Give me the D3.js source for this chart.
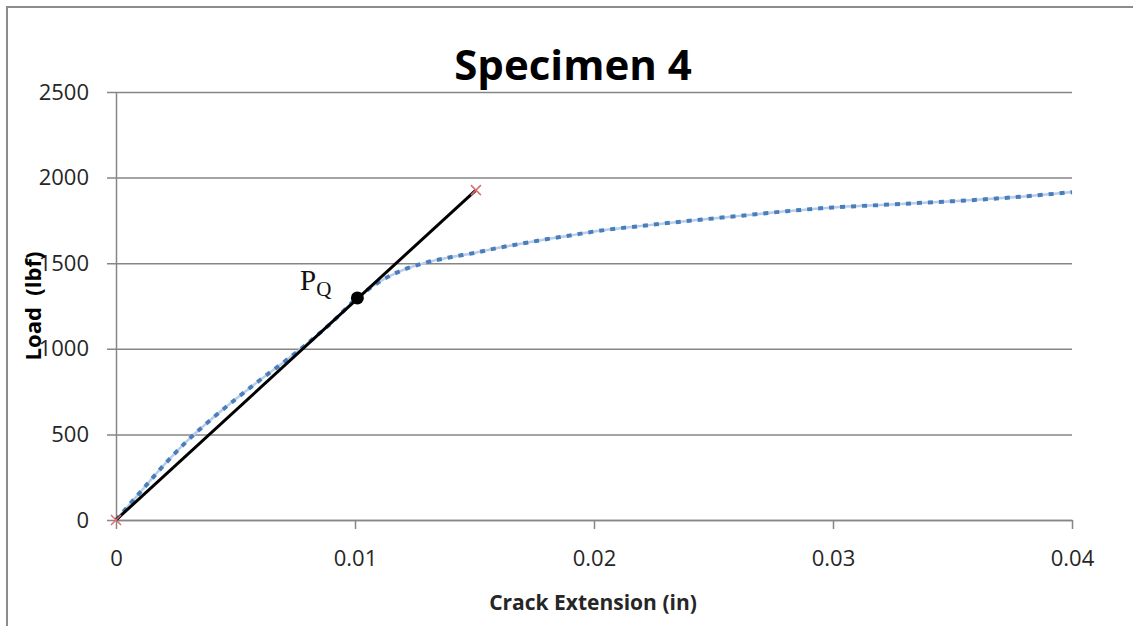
<!DOCTYPE html>
<html>
<head>
<meta charset="utf-8">
<script src="https://cdn.jsdelivr.net/npm/d3@7"></script>
<style>
  body { margin: 0; background: #fff; }
  svg { display: block; }
</style>
</head>
<body>
<script>
var width = 1133
var height = 626

// load vs crack extension
var crackExt = [0, 0.0005, 0.001, 0.002, 0.003, 0.004, 0.005, 0.006, 0.007, 0.008, 0.009, 0.010,
    0.011, 0.012, 0.013, 0.014, 0.015, 0.016, 0.017, 0.018, 0.019, 0.020, 0.022, 0.024,
    0.026, 0.028, 0.030, 0.032, 0.034, 0.036, 0.038, 0.040]
var loadLbf = [0, 80, 160, 320, 465, 590, 705, 815, 920, 1030, 1150, 1285,
    1390, 1460, 1505, 1535, 1560, 1590, 1615, 1640, 1662, 1685, 1718, 1748,
    1775, 1803, 1826, 1840, 1855, 1870, 1890, 1915]

// 5% offset line end points and the P_Q point
var offsetX = [0, 0.01506]
var offsetY = [0, 1927]
var pqX = 0.0101
var pqY = 1297

var xTicks = [0, 0.01, 0.02, 0.03, 0.04]
var yTicks = [0, 500, 1000, 1500, 2000, 2500]

var plot = { left: 116, right: 1072, top: 92, bottom: 520 }

var x = d3.scaleLinear().domain([0, 0.04]).range([plot.left, plot.right])
var y = d3.scaleLinear().domain([0, 2500]).range([plot.bottom, plot.top])

var svg = d3.select('body').append('svg')
    .attr('width', width)
    .attr('height', height)

// outer chart frame (right and bottom are cut off)
svg.append('path')
    .attr('d', `M7,${height} L7,7 L${width},7`)
    .attr('fill', 'none')
    .attr('stroke', '#8c8c8c')
    .attr('stroke-width', 2)

svg.append('text')
    .attr('x', 573).attr('y', 80)
    .attr('text-anchor', 'middle')
    .style('font-family', 'Open Sans, sans-serif')
    .style('font-weight', 'bold')
    .style('font-size', '42px')
    .attr('fill', '#000')
    .text('Specimen 4')

// y axis + gridlines
var yAxis = svg.append('g')
    .attr('transform', `translate(${plot.left},0)`)
    .call(d3.axisLeft(y).tickValues(yTicks).tickFormat(d3.format('d'))
        .tickSize(-(plot.right - plot.left)).tickSizeOuter(0).tickPadding(27))
yAxis.selectAll('.tick line')
    .attr('x1', -9)
    .attr('stroke', '#868686')
    .attr('stroke-width', 1.5)
yAxis.select('.domain').attr('stroke', '#868686').attr('stroke-width', 1.5)

// x axis
var xAxis = svg.append('g')
    .attr('transform', `translate(0,${plot.bottom})`)
    .call(d3.axisBottom(x).tickValues(xTicks)
        .tickFormat(d => d === 0 ? '0' : d3.format('.2f')(d))
        .tickSize(9).tickSizeOuter(0).tickPadding(21))
xAxis.selectAll('.tick line').attr('stroke', '#868686').attr('stroke-width', 1.5)
xAxis.select('.domain').attr('stroke', '#868686').attr('stroke-width', 1.5)

svg.selectAll('.tick text')
    .style('font-family', 'Open Sans, sans-serif')
    .style('font-size', '22px')
    .attr('fill', '#262626')

// axis titles
svg.append('text')
    .attr('x', 593).attr('y', 610)
    .attr('text-anchor', 'middle')
    .style('font-family', 'Open Sans, sans-serif')
    .style('font-weight', 'bold')
    .style('font-size', '21px')
    .attr('fill', '#262626')
    .text('Crack Extension (in)')

svg.append('text')
    .attr('transform', `translate(41,${(plot.top + plot.bottom) / 2}) rotate(-90)`)
    .attr('text-anchor', 'middle')
    .style('font-family', 'Open Sans, sans-serif')
    .style('font-weight', 'bold')
    .style('font-size', '22px')
    .style('white-space', 'pre')
    .attr('fill', '#000')
    .text('Load  (lbf)')

// measured curve
var line = d3.line()
    .x((d, i) => x(crackExt[i]))
    .y(d => y(d))
    .curve(d3.curveMonotoneX)

svg.append('path')
    .attr('d', line(loadLbf))
    .attr('fill', 'none')
    .attr('stroke', '#b7cdea')
    .attr('stroke-width', 2.5)

svg.append('path')
    .attr('d', line(loadLbf))
    .attr('fill', 'none')
    .attr('stroke', '#4a7ebb')
    .attr('stroke-width', 4)
    .attr('stroke-dasharray', '5 6')

// offset line
svg.append('line')
    .attr('x1', x(offsetX[0])).attr('y1', y(offsetY[0]))
    .attr('x2', x(offsetX[1])).attr('y2', y(offsetY[1]))
    .attr('stroke', '#000')
    .attr('stroke-width', 3)

// red x markers at the offset line ends
var cross = svg.selectAll('g.cross')
    .data(offsetX.map((d, i) => [d, offsetY[i]]))
    .enter().append('g')
    .attr('class', 'cross')
    .attr('transform', d => `translate(${x(d[0])},${y(d[1])})`)
cross.append('path')
    .attr('d', 'M-5,-5L5,5M-5,5L5,-5')
    .attr('stroke', '#d9706e')
    .attr('stroke-width', 1.5)

// P_Q point
svg.append('circle')
    .attr('cx', x(pqX)).attr('cy', y(pqY))
    .attr('r', 6.5)
    .attr('fill', '#000')

var pq = svg.append('text')
    .attr('x', 300).attr('y', 290)
    .style('font-family', 'Liberation Serif, serif')
    .attr('fill', '#111')
pq.append('tspan').style('font-size', '29px').text('P')
pq.append('tspan').attr('dy', 6).style('font-size', '21px').text('Q')
</script>
</body>
</html>
